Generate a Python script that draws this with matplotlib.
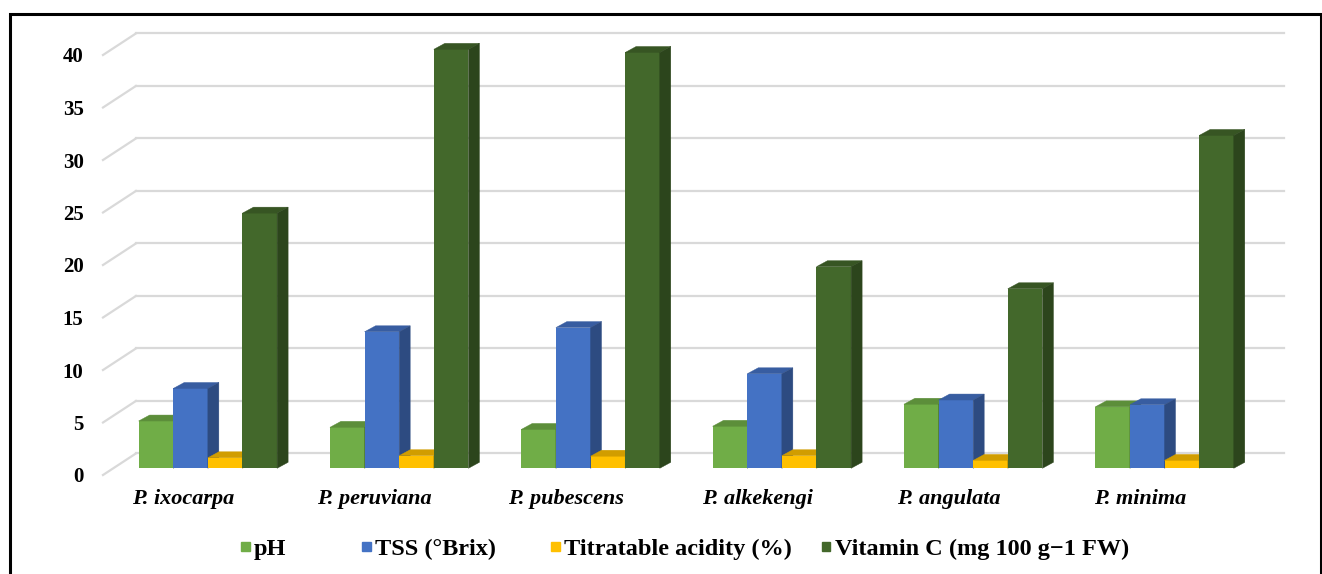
import matplotlib.pyplot as plt
import numpy as np
from matplotlib.patches import Rectangle
from matplotlib.colors import to_rgb

# data
species = ["P. ixocarpa", "P. peruviana", "P. pubescens",
           "P. alkekengi", "P. angulata", "P. minima"]
ph = [4.5, 3.9, 3.7, 4.0, 6.1, 5.85]
tss = [7.6, 13.0, 13.4, 9.0, 6.5, 6.05]
acidity = [1.0, 1.2, 1.15, 1.2, 0.75, 0.75]
vitamin_c = [24.3, 39.9, 39.6, 19.2, 17.1, 31.7]

series_names = ["pH", "TSS (°Brix)", "Titratable acidity (%)",
                "Vitamin C (mg 100 g\u22121 FW)"]
series_vals = [ph, tss, acidity, vitamin_c]
colors = ["#70AD47", "#4472C4", "#FFC000", "#43682B"]
y_ticks = list(range(0, 41, 5))

W, H = 1322, 574
SERIF = "Liberation Serif"

# fake 3d geometry (data units)
WALL_DX, WALL_DY = 0.172, 2.05
BAR_DX, BAR_DY = 0.048, 0.64
DEP_DX, DEP_DY = 0.0575, 0.57
BAR_W = 0.181


def shade(c, f):
    r, g, b = to_rgb(c)
    return (r * f, g * f, b * f)


def main():
    fig = plt.figure(figsize=(W / 100, H / 100), dpi=100)
    ax = fig.add_axes([103 / W, 99 / H, 1148 / W, 420 / H])
    ax.set_xlim(-0.5, 5.5)
    ax.set_ylim(0, 40)
    x = np.arange(len(species))

    # back wall + side wall grid
    for v in y_ticks:
        ax.plot([-0.5 + WALL_DX, 5.5 + WALL_DX], [v + WALL_DY] * 2,
                color="#d9d9d9", lw=1.6, clip_on=False, zorder=0)
        ax.plot([-0.5, -0.5 + WALL_DX], [v, v + WALL_DY],
                color="#d9d9d9", lw=1.6, clip_on=False, zorder=0)

    # bars with top and side faces
    for j, vals in enumerate(series_vals):
        left = x - 2 * BAR_W + j * BAR_W + BAR_DX
        ax.bar(left, vals, width=BAR_W, bottom=BAR_DY, align="edge",
               color=colors[j], zorder=2 + j, clip_on=False)
        for l, v in zip(left, vals):
            t = v + BAR_DY
            r = l + BAR_W
            ax.fill([l, r, r + DEP_DX, l + DEP_DX],
                    [t, t, t + DEP_DY, t + DEP_DY],
                    color=shade(colors[j], 0.82), lw=0.3,
                    zorder=2 + j, clip_on=False)
            ax.fill([r, r + DEP_DX, r + DEP_DX, r],
                    [BAR_DY, BAR_DY + DEP_DY, t + DEP_DY, t],
                    color=shade(colors[j], 0.66), lw=0.3,
                    zorder=2 + j, clip_on=False)

    ax.set_yticks(y_ticks)
    ax.set_yticklabels([str(v) for v in y_ticks], fontsize=15,
                       fontweight="bold", family=SERIF)
    ax.set_xticks(x - 0.08)
    ax.set_xticklabels(species, fontsize=16, fontweight="bold",
                       fontstyle="italic", family=SERIF)
    ax.tick_params(axis="y", length=0, pad=14)
    ax.tick_params(axis="x", length=0, pad=10)
    for s in ax.spines.values():
        s.set_visible(False)

    # legend, placed by hand like the excel one
    marker_x = [245, 366, 555, 826]
    for mx, name, c in zip(marker_x, series_names, colors):
        fig.add_artist(Rectangle(((mx - 4.5) / W, (H - 546 - 4.5) / H),
                                 9 / W, 9 / H, transform=fig.transFigure,
                                 color=c))
        fig.text((mx + 9) / W, (H - 549) / H, name, ha="left", va="center",
                 fontsize=17.5, fontweight="bold", family=SERIF)

    # frame round the picture
    fig.add_artist(Rectangle((9.5 / W, -0.05), 1311 / W, (H - 14) / H + 0.05,
                             transform=fig.transFigure, fill=False,
                             ec="black", lw=2.2))

    fig.savefig("out.png", dpi=100, facecolor="white")


if __name__ == "__main__":
    main()
